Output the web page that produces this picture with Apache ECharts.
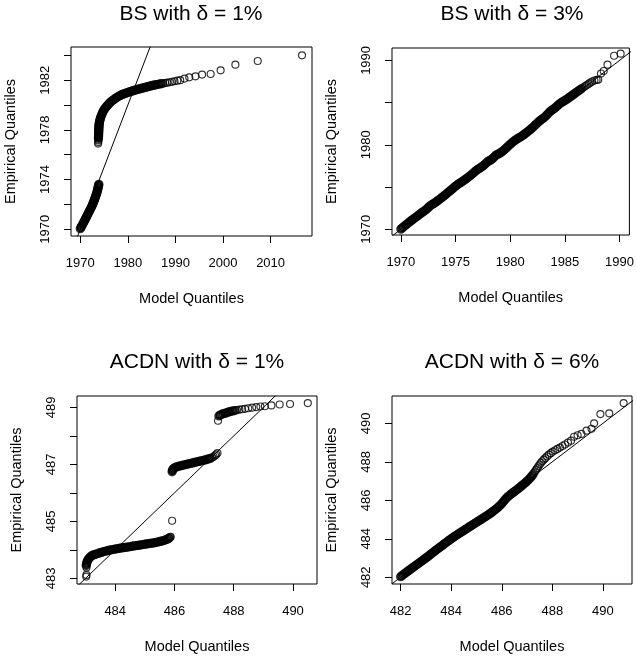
<!DOCTYPE html>
<html>
<head>
<meta charset="utf-8">
<title>QQ plots</title>
<script src="https://cdn.jsdelivr.net/npm/echarts@6/dist/echarts.min.js"></script>
<style>
  html, body { margin: 0; padding: 0; background: #fff; }
  #chart { width: 637px; height: 658px; }
</style>
</head>
<body>
<div id="chart"></div>
<script>
// [model quantile, empirical quantile].
// "Points" are the runs where the circles pile up into a black band,
// "Sparse" are the ones that still show as single circles.
var bs1Points = [
  [1970.0,1970.05],[1970.13,1970.15],[1970.27,1970.25],[1970.42,1970.35],[1970.56,1970.45],[1970.7,1970.55],
  [1970.83,1970.65],[1970.97,1970.75],[1971.1,1970.85],[1971.24,1970.95],[1971.37,1971.05],[1971.5,1971.15],
  [1971.63,1971.25],[1971.76,1971.35],[1971.9,1971.45],[1972.03,1971.55],[1972.16,1971.65],[1972.3,1971.75],
  [1972.42,1971.85],[1972.54,1971.95],[1972.65,1972.05],[1972.75,1972.15],[1972.85,1972.25],[1972.95,1972.35],
  [1973.05,1972.45],[1973.14,1972.55],[1973.23,1972.65],[1973.32,1972.75],[1973.41,1972.85],[1973.49,1972.95],
  [1973.56,1973.05],[1973.62,1973.15],[1973.68,1973.25],[1973.74,1973.35],[1973.8,1973.45],[1973.86,1973.55],
  [1973.9,1973.62],
  [1973.82,1977.28],[1973.83,1977.4],[1973.84,1977.5],
  [1973.85,1977.6],[1973.86,1977.7],[1973.87,1977.8],[1973.88,1977.9],[1973.89,1978.0],[1973.9,1978.1],
  [1973.91,1978.2],[1973.93,1978.3],[1973.95,1978.4],[1973.98,1978.5],
  [1974.02,1978.6],[1974.07,1978.7],[1974.13,1978.8],[1974.2,1978.9],[1974.28,1979.0],[1974.37,1979.1],
  [1974.47,1979.2],[1974.58,1979.3],[1974.7,1979.4],[1974.82,1979.5],[1974.95,1979.6],
  [1975.12,1979.69],[1975.3,1979.78],[1975.48,1979.86],[1975.66,1979.94],[1975.84,1980.02],[1976.02,1980.1],
  [1976.2,1980.18],[1976.4,1980.26],[1976.65,1980.33],[1976.9,1980.4],[1977.15,1980.47],[1977.4,1980.54],
  [1977.65,1980.6],[1977.9,1980.66],[1978.15,1980.72],[1978.4,1980.77],[1978.65,1980.82],[1978.9,1980.86],
  [1979.15,1980.9],[1979.45,1980.94],[1979.75,1980.98],[1980.05,1981.02],[1980.35,1981.06],[1980.65,1981.1],
  [1980.95,1981.13],[1981.25,1981.17],[1981.55,1981.2],[1981.85,1981.24],[1982.15,1981.27],[1982.45,1981.3],
  [1982.75,1981.33],[1983.05,1981.36],[1983.35,1981.39],[1983.65,1981.42],[1983.95,1981.45],[1984.25,1981.48],
  [1984.55,1981.51],[1984.85,1981.54],[1985.15,1981.57],[1985.45,1981.6],[1985.75,1981.62],[1986.05,1981.65],
  [1986.4,1981.67],[1986.75,1981.7],[1987.1,1981.72]
];
var bs1Sparse = [
  [1973.75,1976.9],[1973.78,1977.02],[1973.8,1977.15],
  [1987.45,1981.74],[1987.85,1981.77],[1988.3,1981.8],[1988.8,1981.83],[1989.3,1981.87],[1989.8,1981.91],
  [1990.4,1981.96],[1991.0,1982.0],[1991.9,1982.13],[1992.9,1982.23],[1994.2,1982.31],[1995.6,1982.45],
  [1997.4,1982.5],[1999.5,1982.79],[2002.6,1983.25],[2007.3,1983.54],[2016.6,1984.0]
];

var bs3Points = [
  [1970.0,1970.02],[1970.13,1970.16],[1970.26,1970.3],[1970.39,1970.44],[1970.52,1970.58],[1970.65,1970.72],
  [1970.78,1970.85],[1970.91,1970.98],[1971.04,1971.11],[1971.17,1971.24],[1971.3,1971.36],[1971.43,1971.48],
  [1971.56,1971.61],[1971.69,1971.74],[1971.82,1971.87],[1971.95,1972.0],[1972.08,1972.12],[1972.21,1972.24],
  [1972.34,1972.38],[1972.47,1972.52],[1972.6,1972.68],[1972.73,1972.84],[1972.86,1972.94],[1972.99,1973.04],
  [1973.12,1973.14],[1973.25,1973.26],[1973.38,1973.39],[1973.51,1973.52],[1973.64,1973.65],[1973.77,1973.78],
  [1973.9,1973.91],[1974.03,1974.04],[1974.16,1974.18],[1974.29,1974.33],[1974.42,1974.47],[1974.55,1974.61],
  [1974.68,1974.75],[1974.81,1974.89],[1974.94,1975.04],[1975.07,1975.18],[1975.2,1975.3],[1975.33,1975.41],
  [1975.46,1975.52],[1975.59,1975.63],[1975.72,1975.75],[1975.85,1975.87],[1975.98,1975.99],[1976.11,1976.11],
  [1976.24,1976.24],[1976.37,1976.37],[1976.5,1976.51],[1976.63,1976.66],[1976.76,1976.81],[1976.89,1976.96],
  [1977.02,1977.08],[1977.15,1977.18],[1977.28,1977.29],[1977.41,1977.41],[1977.54,1977.54],[1977.67,1977.68],
  [1977.8,1977.84],[1977.93,1978.0],[1978.06,1978.1],[1978.19,1978.19],[1978.32,1978.3],[1978.45,1978.44],
  [1978.58,1978.62],[1978.71,1978.78],[1978.84,1978.87],[1978.97,1978.95],[1979.1,1979.05],[1979.23,1979.17],
  [1979.36,1979.3],[1979.49,1979.45],[1979.62,1979.6],[1979.75,1979.76],[1979.88,1979.92],[1980.01,1980.08],
  [1980.14,1980.22],[1980.27,1980.36],[1980.4,1980.5],[1980.53,1980.62],[1980.66,1980.72],[1980.79,1980.82],
  [1980.92,1980.92],[1981.05,1981.02],[1981.18,1981.14],[1981.31,1981.27],[1981.44,1981.4],[1981.57,1981.53],
  [1981.7,1981.66],[1981.83,1981.8],[1981.96,1981.95],[1982.09,1982.1],[1982.22,1982.26],[1982.35,1982.42],
  [1982.48,1982.58],[1982.61,1982.74],[1982.74,1982.88],[1982.87,1983.0],[1983.0,1983.12],[1983.13,1983.26],
  [1983.26,1983.42],[1983.39,1983.6],[1983.52,1983.78],[1983.65,1983.94],[1983.78,1984.08],[1983.91,1984.2],
  [1984.04,1984.32],[1984.17,1984.45],[1984.3,1984.6],[1984.43,1984.76],[1984.56,1984.9],[1984.69,1985.02],
  [1984.82,1985.12],[1984.95,1985.22],[1985.08,1985.32],[1985.21,1985.43],[1985.34,1985.55],[1985.47,1985.68],
  [1985.6,1985.8],[1985.73,1985.92],[1985.86,1986.04],[1985.99,1986.16],[1986.12,1986.28],[1986.25,1986.4],
  [1986.38,1986.52],[1986.51,1986.64]
];
var bs3Sparse = [
  [1986.64,1986.76],[1986.77,1986.88],[1986.9,1987.0],[1987.05,1987.12],
  [1987.2,1987.25],[1987.35,1987.38],[1987.5,1987.5],[1987.7,1987.62],[1987.9,1987.68],[1988.05,1987.72],
  [1988.3,1988.45],[1988.55,1988.75],[1988.9,1989.5],[1989.5,1990.55],[1990.1,1990.8]
];

var acdn1Points = [
  [483.02,483.45],[483.03,483.5],[483.04,483.55],[483.06,483.6],[483.08,483.65],[483.11,483.69],
  [483.14,483.73],[483.18,483.77],[483.22,483.8],
  [483.27,483.82],[483.32,483.84],[483.38,483.86],[483.44,483.88],[483.5,483.9],[483.56,483.92],
  [483.62,483.94],[483.68,483.955],[483.74,483.97],[483.8,483.985],[483.86,484.0],[483.92,484.01],
  [483.98,484.025],[484.04,484.035],[484.1,484.045],[484.16,484.055],[484.22,484.065],[484.28,484.075],
  [484.34,484.085],[484.4,484.095],[484.46,484.105],[484.52,484.115],[484.58,484.125],[484.64,484.135],
  [484.7,484.145],[484.76,484.155],[484.82,484.165],[484.88,484.175],[484.94,484.185],[485.0,484.195],
  [485.06,484.205],[485.12,484.215],[485.18,484.225],[485.24,484.235],[485.3,484.245],[485.36,484.255],
  [485.42,484.27],[485.48,484.285],[485.54,484.3],[485.6,484.315],[485.66,484.335],[485.71,484.355],
  [485.76,484.375],[485.8,484.4],[485.84,484.43],
  [485.92,486.74],[485.93,486.79],[485.95,486.83],[485.98,486.86],[486.02,486.89],[486.07,486.91],
  [486.13,486.93],[486.19,486.945],[486.25,486.96],[486.31,486.975],[486.37,486.99],[486.43,487.005],
  [486.49,487.02],[486.55,487.035],[486.61,487.05],[486.67,487.065],[486.73,487.08],[486.79,487.095],
  [486.85,487.11],[486.91,487.125],[486.97,487.14],[487.03,487.155],[487.09,487.17],[487.15,487.19],
  [487.21,487.21],
  [487.5,488.7],[487.54,488.73],[487.6,488.76],[487.66,488.78],[487.72,488.8],[487.78,488.82],
  [487.84,488.84],[487.9,488.86],[487.97,488.875],[488.04,488.89]
];
var acdn1Sparse = [
  [483.02,483.06],[483.03,483.12],[483.03,483.38],
  [485.87,484.46],[485.92,485.02],
  [487.27,487.24],[487.32,487.27],[487.37,487.31],[487.41,487.35],[487.45,487.4],
  [487.47,488.53],
  [488.11,488.905],[488.19,488.92],[488.28,488.935],[488.38,488.95],[488.49,488.97],[488.62,488.99],
  [488.76,489.01],[488.9,489.03],[489.05,489.04],[489.27,489.07],[489.55,489.1],[489.9,489.12],[490.5,489.15]
];

var acdn6Points = [
  [482.0,482.03],[482.055,482.085],[482.11,482.14],[482.165,482.195],[482.22,482.25],[482.275,482.305],
  [482.33,482.36],[482.385,482.41],[482.44,482.465],[482.495,482.515],[482.55,482.57],[482.605,482.62],
  [482.66,482.675],[482.715,482.725],[482.77,482.78],[482.825,482.83],[482.88,482.885],[482.935,482.935],
  [482.99,482.99],[483.045,483.045],[483.1,483.1],[483.155,483.16],[483.21,483.215],[483.265,483.27],
  [483.32,483.33],[483.375,483.385],[483.43,483.44],[483.485,483.495],[483.54,483.55],[483.595,483.6],
  [483.65,483.655],[483.705,483.71],[483.76,483.765],[483.815,483.82],[483.87,483.875],[483.925,483.93],
  [483.98,483.98],[484.035,484.03],[484.09,484.08],[484.145,484.13],[484.2,484.18],[484.255,484.225],
  [484.31,484.275],[484.365,484.32],[484.42,484.365],[484.475,484.41],[484.53,484.46],[484.585,484.505],
  [484.64,484.55],[484.695,484.6],[484.75,484.645],[484.805,484.69],[484.86,484.735],[484.915,484.785],
  [484.97,484.83],[485.025,484.875],[485.08,484.92],[485.135,484.965],[485.19,485.01],[485.245,485.06],
  [485.3,485.105],[485.355,485.15],[485.41,485.2],[485.465,485.245],[485.52,485.295],[485.575,485.345],
  [485.63,485.4],[485.685,485.455],[485.74,485.51],[485.795,485.57],[485.85,485.63],[485.905,485.7],
  [485.96,485.77],[486.015,485.85],[486.07,485.94],[486.125,486.03],[486.18,486.11],[486.235,486.18],
  [486.29,486.24],[486.345,486.3],[486.4,486.355],[486.455,486.41],[486.51,486.465],[486.565,486.52],
  [486.62,486.575],[486.675,486.63],[486.73,486.69],[486.785,486.75],[486.84,486.81],[486.895,486.87],
  [486.95,486.93],[487.005,487.0],[487.06,487.07],[487.115,487.15],[487.17,487.23],[487.225,487.32]
];
var acdn6Sparse = [
  [487.27,487.41],[487.315,487.5],[487.36,487.59],[487.405,487.68],[487.45,487.77],[487.5,487.86],
  [487.55,487.95],[487.6,488.03],[487.66,488.11],[487.72,488.19],[487.79,488.28],[487.86,488.37],
  [487.94,488.45],[488.02,488.53],[488.11,488.6],[488.2,488.67],[488.3,488.74],[488.4,488.82],
  [488.5,488.9],[488.62,489.0],[488.74,489.1],[488.86,489.3],[489.0,489.38],[489.15,489.45],
  [489.35,489.62],[489.55,489.72],[489.65,490.0],[489.9,490.48],[490.25,490.52],[490.82,491.05]
];

// panel titles, axis ranges and ticks
var titles = ['BS with δ = 1%', 'BS with δ = 3%', 'ACDN with δ = 1%', 'ACDN with δ = 6%'];
var xRanges = [[1968.05, 2018.7], [1969.19, 1990.9], [482.71, 490.81], [481.66, 491.15]];
var yRanges = [[1969.46, 1984.67], [1969.32, 1991.47], [482.8, 489.4], [481.65, 491.42]];
var xTicks = [[1970, 1980, 1990, 2000, 2010], [1970, 1975, 1980, 1985, 1990], [484, 486, 488, 490], [482, 484, 486, 488, 490]];
var xLabels = xTicks;
var yTicks = [[1970, 1972, 1974, 1976, 1978, 1980, 1982, 1984], [1970, 1975, 1980, 1985, 1990], [483, 484, 485, 486, 487, 488, 489], [482, 484, 486, 488, 490]];
var yLabels = [[1970, 1974, 1978, 1982], [1970, 1980, 1990], [483, 485, 487, 489], [482, 484, 486, 488, 490]];

var densePoints = [bs1Points, bs3Points, acdn1Points, acdn6Points];
var sparsePoints = [bs1Sparse, bs3Sparse, acdn1Sparse, acdn6Sparse];
var boxes = [
  {left: 71, top: 47, width: 241, height: 189},
  {left: 392, top: 48, width: 240, height: 187},
  {left: 77, top: 396, width: 240, height: 188},
  {left: 392, top: 396, width: 240, height: 188}
];
var titlePos = [[191, 14], [512, 14], [197, 362], [512, 362]];

var font = 'Liberation Sans, Arial, Helvetica, sans-serif';

var chart = echarts.init(document.getElementById('chart'));

var grid = [], xAxis = [], yAxis = [], series = [], graphic = [];
for (var i = 0; i < 4; i++) {
  grid.push({
    left: boxes[i].left, top: boxes[i].top, width: boxes[i].width, height: boxes[i].height,
    show: true, borderColor: '#000', borderWidth: 1, backgroundColor: 'transparent'
  });
  xAxis.push({
    gridIndex: i, type: 'value', min: xRanges[i][0], max: xRanges[i][1],
    axisLine: {show: false}, splitLine: {show: false},
    axisTick: {show: true, length: 7, customValues: xTicks[i], lineStyle: {color: '#000'}},
    axisLabel: {customValues: xLabels[i], color: '#000', fontSize: 13, fontFamily: font, margin: 21,
      formatter: function (v) { return String(v) }},
    name: 'Model Quantiles', nameLocation: 'middle', nameGap: 55,
    nameTextStyle: {color: '#000', fontSize: 14.5, fontFamily: font}
  });
  yAxis.push({
    gridIndex: i, type: 'value', min: yRanges[i][0], max: yRanges[i][1],
    axisLine: {show: false}, splitLine: {show: false},
    axisTick: {show: true, length: 7, customValues: yTicks[i], lineStyle: {color: '#000'}},
    axisLabel: {customValues: yLabels[i], color: '#000', fontSize: 13, fontFamily: font, margin: 19, rotate: 90,
      formatter: function (v) { return String(v) }},
    name: 'Empirical Quantiles', nameLocation: 'middle', nameGap: 53, nameRotate: 90,
    nameTextStyle: {color: '#000', fontSize: 14.5, fontFamily: font}
  });
  // the packed runs: circles overlap so much they read as a solid band
  series.push({
    type: 'scatter', xAxisIndex: i, yAxisIndex: i, data: densePoints[i],
    symbol: 'circle', symbolSize: 7,
    itemStyle: {color: 'rgba(0,0,0,0)', borderColor: '#000', borderWidth: 2.3},
    silent: true
  });
  series.push({
    type: 'scatter', xAxisIndex: i, yAxisIndex: i, data: sparsePoints[i],
    symbol: 'circle', symbolSize: 7,
    itemStyle: {color: 'rgba(0,0,0,0)', borderColor: '#000', borderWidth: 1.15},
    silent: true
  });
  // reference line y = x across the whole box
  var lo = Math.min(xRanges[i][0], yRanges[i][0]), hi = Math.max(xRanges[i][1], yRanges[i][1]);
  series.push({
    type: 'line', xAxisIndex: i, yAxisIndex: i, data: [[lo, lo], [hi, hi]],
    showSymbol: false, symbol: 'none', clip: true,
    lineStyle: {color: '#000', width: 1}, silent: true
  });
  graphic.push({
    type: 'text', x: titlePos[i][0], y: titlePos[i][1],
    style: {text: titles[i], font: '21px ' + font, fill: '#000', textAlign: 'center', textVerticalAlign: 'middle'}
  });
}

chart.setOption({
  animation: false,
  backgroundColor: '#fff',
  grid: grid,
  xAxis: xAxis,
  yAxis: yAxis,
  series: series,
  graphic: graphic
});
</script>
</body>
</html>
